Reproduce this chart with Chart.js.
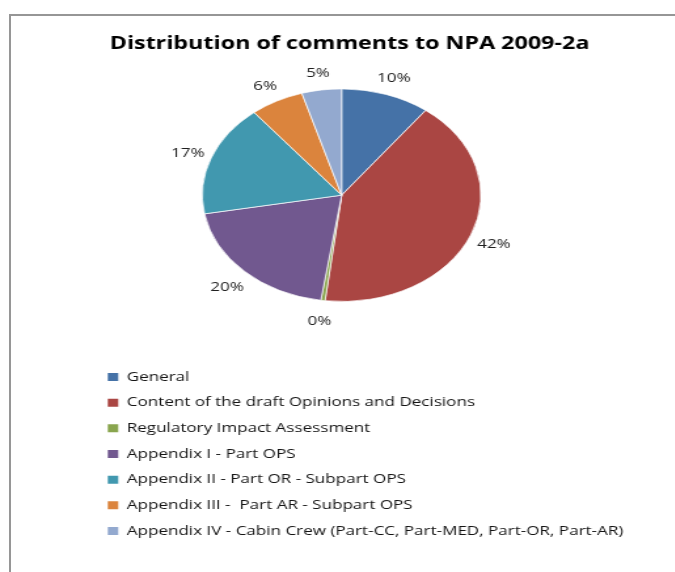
<!DOCTYPE html>
<html><head><meta charset="utf-8">
<script src="https://cdn.jsdelivr.net/npm/chart.js@4.4.1/dist/chart.umd.min.js"></script>
<style>
html,body{margin:0;padding:0;background:#fff;overflow:hidden;width:675px;height:572px;}
#frame{position:absolute;left:9px;top:14px;width:700px;height:620px;border-left:2px solid #969696;border-top:2px solid #969696;}
#wrap{position:absolute;left:0;top:0;width:515px;height:572px;transform:scaleX(1.31);transform-origin:0 0;}
canvas{display:block;}
</style></head><body>
<div id="frame"></div>
<div id="wrap"><canvas id="c" width="515" height="572"></canvas></div>
<script>
// ---- data ----
const chartTitle = 'Distribution of comments to NPA 2009-2a';
const categories = [
  'General',
  'Content of the draft Opinions and Decisions',
  'Regulatory Impact Assessment',
  'Appendix I - Part OPS',
  'Appendix II - Part OR - Subpart OPS',
  'Appendix III -  Part AR - Subpart OPS',
  'Appendix IV - Cabin Crew (Part-CC, Part-MED, Part-OR, Part-AR)'
];
const shares = [10.3, 41.6, 0.49, 19.8, 17.0, 6.2, 4.61];
const sliceColors = ['#4572A7', '#AA4643', '#89A54E', '#71588F', '#4198AF', '#DB843D', '#93A9CF'];

const sliceLabels = {
  id: 'sliceLabels',
  afterDatasetsDraw(chart) {
    const meta = chart.getDatasetMeta(0);
    const data = chart.data.datasets[0].data;
    const total = data.reduce((a, b) => a + b, 0);
    const ctx = chart.ctx;
    ctx.save();
    ctx.font = '13px "Open Sans"';
    ctx.fillStyle = '#1f1f1f';
    ctx.textAlign = 'center';
    ctx.textBaseline = 'middle';
    meta.data.forEach((arc, i) => {
      const p = arc.getProps(['x', 'y', 'startAngle', 'endAngle', 'outerRadius'], true);
      const mid = (p.startAngle + p.endAngle) / 2;
      const r = p.outerRadius + 19;
      ctx.fillText(Math.round(data[i] / total * 100) + '%', p.x + Math.cos(mid) * r, p.y + Math.sin(mid) * r + 2);
    });
    ctx.restore();
  }
};

// nudge title centre and let the legend box run to the canvas edge (Chart.js clips the legend to its box)
const boxTweaks = {
  id: 'boxTweaks',
  afterLayout(chart) {
    if (chart.titleBlock) {
      chart.titleBlock.left += 6;
      chart.titleBlock.right += 6;
    }
    if (chart.legend) {
      chart.legend.right = chart.width;
      chart.legend.width = chart.legend.right - chart.legend.left;
    }
  }
};

new Chart(document.getElementById('c'), {
  type: 'pie',
  data: {
    labels: categories,
    datasets: [{
      data: shares,
      backgroundColor: sliceColors,
      borderColor: '#ffffff',
      borderWidth: 0.7,
      radius: 106.3,
      hoverOffset: 0
    }]
  },
  options: {
    responsive: false,
    animation: false,
    events: [],
    radius: 106.3,
    layout: { padding: { left: 69.6, right: 63, top: 0, bottom: 24.5 } },
    plugins: {
      tooltip: { enabled: false },
      title: {
        display: true,
        text: chartTitle,
        color: '#000000',
        font: { family: 'Open Sans', size: 17.8, weight: 'bold', lineHeight: 1.2 },
        padding: { top: 33.2, bottom: 4.5 }
      },
      legend: {
        position: 'bottom',
        align: 'start',
        title: { display: true, text: '', padding: 7.25, font: { size: 10, lineHeight: 1.2 } },
        labels: {
          boxWidth: 8,
          boxHeight: 8,
          padding: 12.67,
          color: '#141414',
          font: { family: 'Open Sans', size: 13, lineHeight: 1.2 },
          generateLabels(chart) {
            const base = Chart.overrides.doughnut.plugins.legend.labels.generateLabels(chart);
            return base.map(it => Object.assign({}, it, {
              text: it.text + ' '.repeat(70),
              strokeStyle: it.fillStyle,
              lineWidth: 0
            }));
          }
        }
      }
    }
  },
  plugins: [sliceLabels, boxTweaks]
});
</script>
</body></html>
